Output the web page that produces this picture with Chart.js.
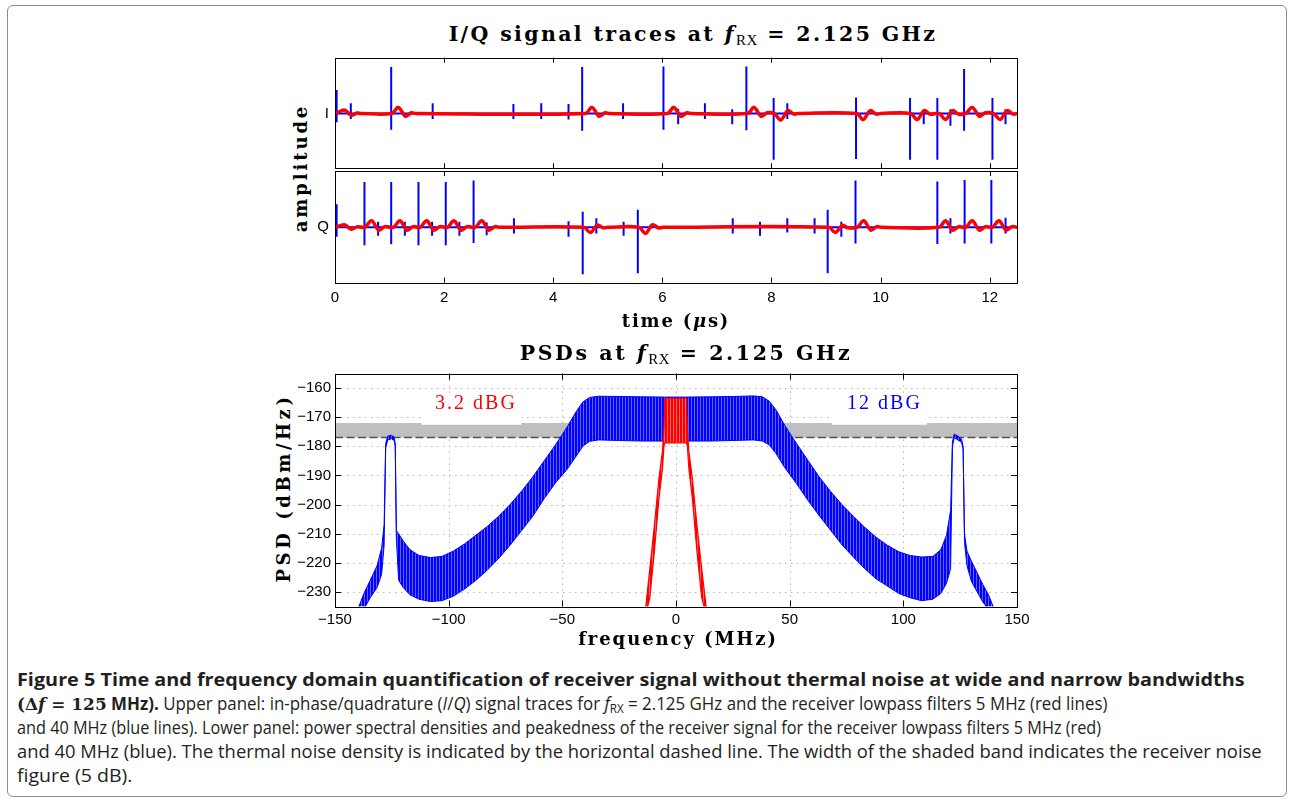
<!DOCTYPE html>
<html lang="en">
<head>
<meta charset="utf-8">
<title>Figure 5</title>
<script src="https://cdn.jsdelivr.net/npm/chart.js"></script>
<style>
  html, body { margin: 0; padding: 0; background: #fff; }
  body { position: relative; width: 1294px; height: 807px; overflow: hidden; }
  .frame { position: absolute; left: 7px; top: 5px; width: 1280px; height: 792px;
           border: 1px solid #8c8c8c; border-radius: 6px; box-sizing: border-box; }
  .plot { position: absolute; line-height: 0; }
  .plot canvas { display: block; }
  .lbl { position: absolute; white-space: nowrap; transform: translate(-50%, -50%);
         font-family: "DejaVu Serif", serif; font-weight: bold; font-size: 18px; color: #000; }
  .lbl.big { font-size: 20.5px; }
  .lbl.rot { transform: translate(-50%, -50%) rotate(-90deg); }
  .lbl i { font-style: italic; }
  .lbl sub { font-family: "Liberation Serif", serif; font-size: 15px; font-weight: normal;
             vertical-align: -4px; line-height: 0; letter-spacing: 0.5px; }
  .cap { position: absolute; left: 17px; white-space: nowrap; transform-origin: 0 50%;
         font-family: "Open Sans", sans-serif; font-size: 17.5px; line-height: 24px; color: #231f20; }
  .cap b { font-weight: 700; }
  .cap .m { font-family: "DejaVu Serif", serif; font-weight: bold; }
  .cap sub { font-size: 12px; vertical-align: -3px; line-height: 0; }
</style>
</head>
<body>
<div class="frame"></div>

<div class="lbl big fit" data-w="493" style="left:693px; top:34px">I/Q signal traces at <i>f</i><sub>RX</sub> = 2.125 GHz</div>
<div class="lbl rot fit" data-w="128" style="left:300px; top:168px">amplitude</div>
<div class="plot" style="left:230px; top:52px"><canvas id="chartI" width="800" height="120"></canvas></div>
<div class="plot" style="left:230px; top:165px"><canvas id="chartQ" width="800" height="170"></canvas></div>
<div class="lbl fit" data-w="108" style="left:676px; top:320px">time (<i>μ</i>s)</div>

<div class="lbl big fit" data-w="338" style="left:686px; top:353px">PSDs at <i>f</i><sub>RX</sub> = 2.125 GHz</div>
<div class="lbl rot fit" data-w="189" style="left:283px; top:488px">PSD (dBm/Hz)</div>
<div class="plot" style="left:230px; top:365px"><canvas id="chartPsd" width="800" height="290"></canvas></div>
<div class="lbl fit" data-w="200" style="left:678px; top:638px">frequency (MHz)</div>

<div class="cap fitcap" data-w="1227" style="top:667px"><b>Figure 5 Time and frequency domain quantification of receiver signal without thermal noise at wide and narrow bandwidths</b></div>
<div class="cap fitcap" data-w="1091" style="top:691px"><b><span class="m">(Δ<i>f</i> = 125</span> MHz).</b> Upper panel: in-phase/quadrature (<i>I</i>/<i>Q</i>) signal traces for <i>f</i><sub>RX</sub> = 2.125 GHz and the receiver lowpass filters 5 MHz (red lines)</div>
<div class="cap fitcap" data-w="1084" style="top:715px">and 40 MHz (blue lines). Lower panel: power spectral densities and peakedness of the receiver signal for the receiver lowpass filters 5 MHz (red)</div>
<div class="cap fitcap" data-w="1245" style="top:739px">and 40 MHz (blue). The thermal noise density is indicated by the horizontal dashed line. The width of the shaded band indicates the receiver noise</div>
<div class="cap fitcap" data-w="116" style="top:763px">figure (5 dB).</div>

<script>
// ===== ticks
const TIME_TICKS = [0, 2, 4, 6, 8, 10, 12];
const FREQ_TICKS = [-150, -100, -50, 0, 50, 100, 150];
const PSD_TICKS  = [-230, -220, -210, -200, -190, -180, -170, -160];
const TRACE_NAMES = ['I', 'Q'];

// ===== I/Q traces, 40 MHz filter (blue): [time us, peak, trough]
const spikesI = [
  [0.03, 0.50, -0.19], [0.29, 0.22, -0.12], [1.03, 0.99, -0.35], [1.79, 0.22, -0.12],
  [3.27, 0.20, -0.12], [3.78, 0.22, -0.12], [4.28, 0.20, -0.13], [4.53, 0.99, -0.37],
  [5.28, 0.22, -0.12], [6.02, 1.00, -0.35], [6.29, 0.10, -0.23], [6.78, 0.22, -0.12],
  [7.28, 0.09, -0.23], [7.54, 1.00, -0.36], [8.04, 0.33, -0.99], [8.29, 0.22, -0.12],
  [9.55, 0.34, -0.97], [10.54, 0.33, -0.99], [10.79, 0.09, -0.23], [11.04, 0.33, -0.99],
  [11.28, 0.09, -0.26], [11.53, 0.95, -0.37], [12.05, 0.33, -0.99], [12.29, 0.09, -0.23]
];
const spikesQ = [
  [0.03, 0.49, -0.20], [0.54, 0.96, -0.38], [0.79, 0.12, -0.18], [1.03, 0.96, -0.36],
  [1.28, 0.12, -0.18], [1.53, 0.96, -0.38], [1.78, 0.12, -0.18], [2.03, 0.96, -0.38],
  [2.28, 0.12, -0.18], [2.54, 0.99, -0.33], [2.78, 0.10, -0.17], [3.28, 0.19, -0.13],
  [4.28, 0.13, -0.20], [4.54, 0.33, -0.99], [4.79, 0.19, -0.13], [5.29, 0.12, -0.18],
  [5.55, 0.37, -0.97], [6.27, 0.03, -0.02], [6.77, 0.03, -0.02], [7.29, 0.19, -0.13],
  [7.79, 0.12, -0.18], [8.29, 0.19, -0.11], [8.79, 0.19, -0.13], [9.03, 0.37, -0.97],
  [9.28, 0.12, -0.20], [9.54, 0.99, -0.34], [11.04, 0.97, -0.35], [11.28, 0.19, -0.13],
  [11.54, 1.00, -0.34], [12.03, 1.00, -0.34], [12.29, 0.20, -0.13]
];

// ===== I/Q traces, 5 MHz filter (red): [time us, amplitude]
const redI = [
  [0, 0.01], [0.08, 0.04], [0.18, 0.07], [0.30, -0.04], [0.40, 0.01], [0.48, 0],
  [1.04, 0], [1.16, 0.13], [1.29, -0.06], [1.40, 0.015], [1.48, 0],
  [4.59, 0], [4.71, 0.13], [4.84, -0.06], [4.95, 0.015], [5.03, 0],
  [6.09, 0], [6.21, 0.13], [6.34, -0.06], [6.45, 0.015], [6.53, 0],
  [7.56, 0], [7.68, 0.13], [7.81, -0.06], [7.92, 0.015],
  [8.05, 0], [8.17, -0.14], [8.30, 0.06], [8.41, -0.015], [8.49, 0],
  [9.56, 0], [9.68, -0.13], [9.81, 0.06], [9.92, -0.015], [10.0, 0],
  [10.55, 0], [10.67, -0.13], [10.80, 0.06], [10.91, -0.015],
  [11.07, 0], [11.19, -0.13], [11.32, 0.06], [11.43, -0.015],
  [11.56, 0], [11.68, 0.13], [11.81, -0.06], [11.92, 0.015],
  [12.07, 0], [12.19, -0.13], [12.32, 0.06], [12.43, -0.015], [12.5, 0]
];
const redQ = [
  [0, 0.01], [0.08, 0.03], [0.18, 0.05], [0.30, -0.04], [0.40, 0.01], [0.50, 0],
  [0.55, 0], [0.67, 0.14], [0.80, -0.06], [0.91, 0.015],
  [1.07, 0], [1.19, 0.14], [1.32, -0.06], [1.43, 0.015],
  [1.56, 0], [1.68, 0.14], [1.81, -0.06], [1.92, 0.015],
  [2.06, 0], [2.18, 0.14], [2.31, -0.06], [2.42, 0.015],
  [2.57, 0], [2.69, 0.14], [2.82, -0.06], [2.93, 0.015], [3.01, 0],
  [4.56, 0], [4.68, -0.11], [4.81, 0.05], [4.92, -0.012], [5.0, 0],
  [5.57, 0], [5.69, -0.13], [5.82, 0.055], [5.93, -0.014], [6.01, 0],
  [9.05, 0], [9.17, -0.11], [9.30, 0.04], [9.40, -0.01],
  [9.57, 0], [9.69, 0.14], [9.82, -0.06], [9.93, 0.015], [10.01, 0],
  [11.07, 0], [11.19, 0.14], [11.32, -0.06], [11.43, 0.015],
  [11.56, 0], [11.68, 0.14], [11.81, -0.06], [11.92, 0.015],
  [12.05, 0], [12.17, 0.14], [12.30, -0.06], [12.41, 0.015], [12.5, 0]
];

// ===== PSD, 40 MHz filter (blue): upper / lower envelope of the line comb (dBm/Hz)
const blueF = [-141, -139.5, -137, -134.5, -131.5, -129.5, -128.4, -127.7, -126.8, -125.2, -124, -123.5, -123,
  -122, -120, -117, -113, -108, -103, -98, -93, -88, -83, -78, -73, -68, -63, -58, -53, -48, -44, -41, -38, -34,
  -25, -15, -5, 5, 15, 25, 34, 38, 41, 44, 48, 53, 58, 63, 68, 73, 78, 83, 88, 93, 98, 103, 108, 113, 116.5, 119,
  120.8, 121.6, 122.4, 124, 125.6, 126.3, 126.9, 128, 130, 132.5, 135, 137.5, 139.5, 141];
const blueHi = [-238, -235, -230, -226, -221, -215, -207, -179, -176.5, -176.2, -176.8, -179, -209,
  -210, -212.5, -215.5, -217.5, -218.2, -217.8, -216, -213.5, -210.5, -207.5, -204, -200, -195.5, -190.5, -185, -179.5, -173.5, -168.2, -164.8, -163.2, -162.8,
  -162.9, -163, -163.1, -163.1, -163, -162.9, -162.7, -163, -164.5, -167.5, -173, -179, -184.8, -190.5, -195.5, -200, -204, -207.8, -211.2, -214, -216.2, -217.5, -218, -217.8, -215.5, -210.5,
  -202, -178.5, -175.8, -176.5, -177.5, -180, -210, -216, -219.5, -223.5, -227.5, -231, -235, -238];
const blueLo = [-240, -236, -235.5, -232, -228.5, -224, -214, -180.5, -177.8, -177.4, -178, -180, -212,
  -226, -228.5, -231, -232.5, -233.3, -233, -231.5, -229, -226, -222.5, -218.5, -214, -209, -204, -198, -192.5, -188, -183.5, -180, -178.3, -177.8,
  -178, -178.2, -178.2, -178.2, -178.2, -178, -177.8, -178.2, -179.5, -182.5, -187.5, -192.8, -198.5, -203.8, -208.8, -213.8, -218, -222, -225.5, -228, -230.5, -232, -233, -232.5, -230.5, -227,
  -222, -180, -177, -177.8, -178.7, -181, -213, -221, -226.5, -230, -233.5, -236, -238, -240];

// ===== PSD, 5 MHz filter (red)
const redF  = [-14, -11.5, -9.5, -7.5, -6.0, -5.3, -4.9, 4.6, 5.0, 5.7, 7.2, 9.2, 11.3, 14];
const redHi = [-240, -222, -207, -191, -182, -174, -163.5, -163.5, -174, -182, -191, -207, -222, -240];
const redLo = [-240, -232, -216, -198, -188, -180, -178.8, -178.8, -180, -188, -198, -216, -232, -240];

// thermal noise density and receiver noise figure (dB)
const THERMAL_DB = -177;
const NOISE_FIG_DB = 5;

// peakedness notes (text, colour, anchor, white box [f0, f1, top, bottom])
const NOTES = [
  { text: '3.2 dBG', color: '#ff0000', at: [-88, -165.4], box: [-112, -68, -161.6, -172.6] },
  { text: '12 dBG',  color: '#0000ff', at: [91.7, -165.4], box: [68.6, 110.4, -161.6, -172.6] }
];

const TICK_FONT = { family: 'Liberation Sans', size: 15 };
const fmtTick = v => v < 0 ? '\u2212' + (-v) : String(v);

/* ===== helpers ===== */

function spikeTrace(spikes) {
  const pts = [{ x: 0, y: 0 }];
  spikes.forEach(([t, up, down]) => {
    pts.push({ x: t, y: 0 }, { x: t, y: up }, { x: t, y: down }, { x: t, y: 0 });
  });
  pts.push({ x: 12.5, y: 0 });
  return pts;
}

function pts(xs, ys) {
  return xs.map((x, i) => ({ x, y: ys[i] }));
}

function stripes(ctx, c1, c2) {
  const c = document.createElement('canvas');
  c.width = 3; c.height = 1;
  const g = c.getContext('2d');
  g.fillStyle = c1; g.fillRect(0, 0, 2, 1);
  g.fillStyle = c2; g.fillRect(2, 0, 1, 1);
  return ctx.createPattern(c, 'repeat');
}

// fixed axis size, no automatic label padding
const fixSize = (prop, px) => s => {
  s[prop] = px;
  s.paddingTop = s.paddingBottom = s.paddingLeft = s.paddingRight = 0;
};

// matlab-like box: dotted grid under data, frame + inward ticks on top
const boxPlugin = {
  id: 'box',
  beforeDatasetsDraw(chart, args, o) {
    if (!o.grid) return;
    const { ctx, chartArea: a, scales: { x, y } } = chart;
    ctx.save();
    ctx.strokeStyle = '#b4b4b4';
    ctx.lineWidth = 1;
    ctx.setLineDash([1.5, 4.5]);
    ctx.beginPath();
    o.xTicks.forEach(v => {
      const p = Math.round(x.getPixelForValue(v)) + 0.5;
      ctx.moveTo(p, a.top); ctx.lineTo(p, a.bottom);
    });
    o.yTicks.forEach(v => {
      const p = Math.round(y.getPixelForValue(v)) + 0.5;
      ctx.moveTo(a.left, p); ctx.lineTo(a.right, p);
    });
    ctx.stroke();
    ctx.restore();
  },
  afterDraw(chart, args, o) {
    const { ctx, chartArea: a, scales: { x, y } } = chart;
    const L = o.tick;
    ctx.save();
    ctx.strokeStyle = '#000';
    ctx.lineWidth = 1;
    ctx.setLineDash([]);
    ctx.beginPath();
    o.xTicks.forEach(v => {
      const p = Math.round(x.getPixelForValue(v)) + 0.5;
      if (p < a.left + 2 || p > a.right - 2) return;
      ctx.moveTo(p, a.top); ctx.lineTo(p, a.top + L);
      ctx.moveTo(p, a.bottom); ctx.lineTo(p, a.bottom - L);
    });
    (o.yTicks || []).forEach(v => {
      const p = Math.round(y.getPixelForValue(v)) + 0.5;
      ctx.moveTo(a.left, p); ctx.lineTo(a.left + L, p);
      ctx.moveTo(a.right, p); ctx.lineTo(a.right - L, p);
    });
    ctx.stroke();
    ctx.strokeRect(Math.round(a.left) + 0.5, Math.round(a.top) + 0.5,
                   Math.round(a.right) - Math.round(a.left), Math.round(a.bottom) - Math.round(a.top));
    ctx.restore();
  }
};

const notePlugin = {
  id: 'notes',
  afterDatasetsDraw(chart) {
    const { ctx, scales: { x, y } } = chart;
    ctx.save();
    NOTES.forEach(n => {
      const x0 = x.getPixelForValue(n.box[0]), x1 = x.getPixelForValue(n.box[1]);
      const y0 = y.getPixelForValue(n.box[2]), y1 = y.getPixelForValue(n.box[3]);
      ctx.fillStyle = '#fff';
      ctx.fillRect(x0, y0, x1 - x0, y1 - y0);
      ctx.font = '20px "Liberation Serif"';
      if ('letterSpacing' in ctx) ctx.letterSpacing = '2px';
      ctx.fillStyle = n.color;
      ctx.textAlign = 'center';
      ctx.textBaseline = 'middle';
      ctx.fillText(n.text, x.getPixelForValue(n.at[0]), y.getPixelForValue(n.at[1]));
    });
    ctx.restore();
  }
};

function traceChart(id, spikes, red, name, showTime) {
  return new Chart(document.getElementById(id), {
    type: 'line',
    data: {
      datasets: [
        { data: red.map(([x, y]) => ({ x, y })), borderColor: '#ff0000', borderWidth: 3.5, tension: 0.35,
          pointRadius: 0, borderJoinStyle: 'round', borderCapStyle: 'round' },
        { data: spikeTrace(spikes), borderColor: '#0000ff', borderWidth: 2, pointRadius: 0 }
      ]
    },
    options: {
      responsive: false, animation: false, events: [],
      layout: { autoPadding: false,
        padding: { top: showTime ? 6 : 5.7, right: 13, bottom: showTime ? 0 : 3.7, left: 0 } },
      plugins: { legend: { display: false }, tooltip: { enabled: false },
        box: { xTicks: TIME_TICKS, tick: 5 } },
      scales: {
        x: { type: 'linear', min: 0, max: 12.5,
          afterBuildTicks: s => { s.ticks = TIME_TICKS.map(v => ({ value: v })); },
          afterFit: fixSize('height', showTime ? 52.3 : 0),
          grid: { display: false, drawTicks: false }, border: { display: false },
          ticks: { display: showTime, padding: 6, color: '#000', font: TICK_FONT,
                   maxRotation: 0, autoSkip: false, callback: fmtTick } },
        y: { min: -1.17, max: 1.19,
          afterBuildTicks: s => { s.ticks = [{ value: 0 }]; },
          afterFit: fixSize('width', 105),
          grid: { display: false, drawTicks: false }, border: { display: false },
          ticks: { padding: 6, color: '#000', font: TICK_FONT, callback: () => name } }
      }
    },
    plugins: [boxPlugin]
  });
}

function psdChart() {
  const el = document.getElementById('chartPsd');
  const ctx = el.getContext('2d');
  const line = { pointRadius: 0, tension: 0 };
  return new Chart(el, {
    type: 'line',
    data: {
      datasets: [
        { ...line, data: pts(redF, redHi), borderColor: '#ff0000', borderWidth: 1.2 },
        { ...line, data: pts(redF, redLo), borderColor: '#ff0000', borderWidth: 1.2,
          fill: '-1', backgroundColor: stripes(ctx, '#ff0000', '#ff6a6a') },
        { ...line, data: pts(blueF, blueHi), borderColor: '#0000ff', borderWidth: 1 },
        { ...line, data: pts(blueF, blueLo), borderColor: '#0000ff', borderWidth: 1,
          fill: '-1', backgroundColor: stripes(ctx, '#0000ff', '#6363ff') },
        { ...line, data: pts([-150, 150], [THERMAL_DB, THERMAL_DB]), borderColor: '#505050',
          borderWidth: 1.5, borderDash: [8, 3.5] },
        { ...line, data: pts([-150, 150], [THERMAL_DB + NOISE_FIG_DB, THERMAL_DB + NOISE_FIG_DB]),
          borderColor: 'transparent', borderWidth: 0, fill: { value: THERMAL_DB }, backgroundColor: '#bfbfbf' }
      ]
    },
    options: {
      responsive: false, animation: false, events: [],
      layout: { autoPadding: false, padding: { top: 8.5, right: 13, bottom: 0, left: 0 } },
      plugins: { legend: { display: false }, tooltip: { enabled: false },
        box: { grid: true, xTicks: FREQ_TICKS, yTicks: PSD_TICKS, tick: 6 } },
      scales: {
        x: { type: 'linear', min: -150, max: 150,
          afterBuildTicks: s => { s.ticks = FREQ_TICKS.map(v => ({ value: v })); },
          afterFit: fixSize('height', 48.5),
          grid: { display: false, drawTicks: false }, border: { display: false },
          ticks: { padding: 4, color: '#000', font: TICK_FONT, maxRotation: 0,
                   autoSkip: false, callback: fmtTick } },
        y: { min: -235, max: -155,
          afterBuildTicks: s => { s.ticks = PSD_TICKS.map(v => ({ value: v })); },
          afterFit: fixSize('width', 105),
          grid: { display: false, drawTicks: false }, border: { display: false },
          ticks: { padding: 4, color: '#000', font: TICK_FONT, autoSkip: false, callback: fmtTick } }
      }
    },
    plugins: [boxPlugin, notePlugin]
  });
}

// stretch labels / caption lines to the widths measured on the figure
function fitLabels() {
  document.querySelectorAll('.fit').forEach(el => {
    el.style.letterSpacing = '0px';
    const n = el.textContent.length;
    const extra = (+el.dataset.w - el.offsetWidth) / n;
    el.style.letterSpacing = extra.toFixed(2) + 'px';
  });
  document.querySelectorAll('.fitcap').forEach(el => {
    const s = +el.dataset.w / el.offsetWidth;
    el.style.transform = `scaleX(${s.toFixed(4)})`;
  });
}

function init() {
  fitLabels();
  traceChart('chartI', spikesI, redI, TRACE_NAMES[0], false);
  traceChart('chartQ', spikesQ, redQ, TRACE_NAMES[1], true);
  psdChart();
}

if (document.fonts && document.fonts.ready) document.fonts.ready.then(init);
else init();
</script>
</body>
</html>
